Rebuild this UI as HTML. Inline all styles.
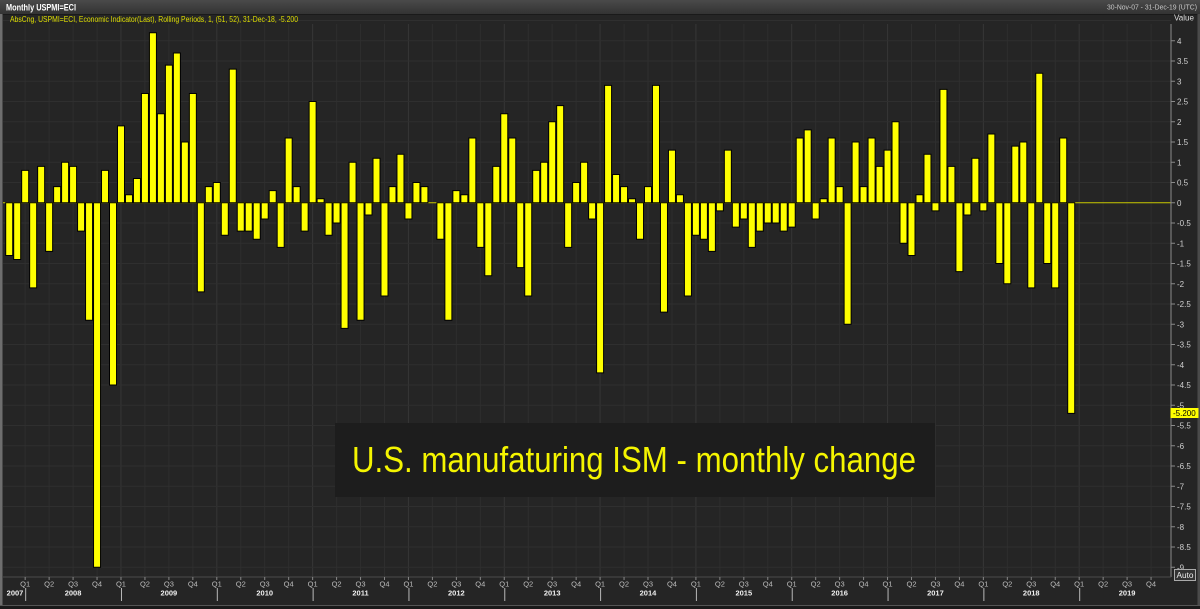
<!DOCTYPE html>
<html>
<head>
<meta charset="utf-8">
<style>
  html,body{margin:0;padding:0;background:#252525;}
  svg{display:block;font-family:"Liberation Sans",Arial,sans-serif;}
  g.b rect{vector-effect:non-scaling-stroke;}
  g.hg line{vector-effect:non-scaling-stroke;}
</style>
</head>
<body>
<svg width="1200" height="609" viewBox="0 0 1200 609" xmlns="http://www.w3.org/2000/svg">
  <!-- background -->
  <rect x="0" y="0" width="1200" height="609" fill="#252525"/>
  <!-- header -->
  <defs>
    <linearGradient id="hdr" x1="0" y1="0" x2="0" y2="1">
      <stop offset="0" stop-color="#4a4a4a"/>
      <stop offset="1" stop-color="#333333"/>
    </linearGradient>
  </defs>
  <rect x="0" y="0" width="1200" height="14" fill="url(#hdr)"/>
  <line x1="0" y1="14.5" x2="1200" y2="14.5" stroke="#1a1a1a" stroke-width="1"/>
  <text x="6" y="10.5" font-size="9" font-weight="bold" fill="#ffffff" textLength="70" lengthAdjust="spacingAndGlyphs">Monthly USPMI=ECI</text>
  <text x="1107" y="9.5" font-size="7.5" fill="#c8c8c8" textLength="90" lengthAdjust="spacingAndGlyphs">30-Nov-07 - 31-Dec-19 (UTC)</text>

  <!-- frame borders -->
  <rect x="0" y="14" width="2.5" height="595" fill="#6e6e6e"/>
  <rect x="1197.5" y="14" width="2.5" height="595" fill="#4a4a4a"/>
  <line x1="0" y1="605.5" x2="1200" y2="605.5" stroke="#555" stroke-width="1"/>
  <rect x="0" y="606" width="1200" height="3" fill="#1a1a1a"/>

  <!-- vertical grid (quarters) -->
  <path d="M25.17 24V577M49.13 24V577M73.08 24V577M97.04 24V577M144.95 24V577M168.9 24V577M192.86 24V577M240.77 24V577M264.72 24V577M288.68 24V577M336.59 24V577M360.54 24V577M384.5 24V577M432.41 24V577M456.36 24V577M480.32 24V577M528.23 24V577M552.18 24V577M576.14 24V577M624.05 24V577M648 24V577M671.96 24V577M719.87 24V577M743.82 24V577M767.78 24V577M815.69 24V577M839.64 24V577M863.6 24V577M911.51 24V577M935.46 24V577M959.42 24V577M1007.33 24V577M1031.28 24V577M1055.24 24V577M1103.15 24V577M1127.1 24V577M1151.06 24V577" stroke="#2e2e2e" stroke-width="1" fill="none"/>
  <path d="M120.99 24V577M216.81 24V577M312.63 24V577M408.45 24V577M504.27 24V577M600.09 24V577M695.91 24V577M791.73 24V577M887.55 24V577M983.37 24V577M1079.19 24V577" stroke="#363636" stroke-width="1" fill="none"/>

  <!-- horizontal grid -->
  <g class="hg" transform="translate(0 202.8) scale(1 -40.5)" stroke="#2f2f2f" stroke-width="1">
    <line x1="3" y1="4.5" x2="1171" y2="4.5"/>
    <line x1="3" y1="4" x2="1171" y2="4"/>
    <line x1="3" y1="3.5" x2="1171" y2="3.5"/>
    <line x1="3" y1="3" x2="1171" y2="3"/>
    <line x1="3" y1="2.5" x2="1171" y2="2.5"/>
    <line x1="3" y1="2" x2="1171" y2="2"/>
    <line x1="3" y1="1.5" x2="1171" y2="1.5"/>
    <line x1="3" y1="1" x2="1171" y2="1"/>
    <line x1="3" y1="0.5" x2="1171" y2="0.5"/>
    <line x1="3" y1="-0.5" x2="1171" y2="-0.5"/>
    <line x1="3" y1="-1" x2="1171" y2="-1"/>
    <line x1="3" y1="-1.5" x2="1171" y2="-1.5"/>
    <line x1="3" y1="-2" x2="1171" y2="-2"/>
    <line x1="3" y1="-2.5" x2="1171" y2="-2.5"/>
    <line x1="3" y1="-3" x2="1171" y2="-3"/>
    <line x1="3" y1="-3.5" x2="1171" y2="-3.5"/>
    <line x1="3" y1="-4" x2="1171" y2="-4"/>
    <line x1="3" y1="-4.5" x2="1171" y2="-4.5"/>
    <line x1="3" y1="-5" x2="1171" y2="-5"/>
    <line x1="3" y1="-5.5" x2="1171" y2="-5.5"/>
    <line x1="3" y1="-6" x2="1171" y2="-6"/>
    <line x1="3" y1="-6.5" x2="1171" y2="-6.5"/>
    <line x1="3" y1="-7" x2="1171" y2="-7"/>
    <line x1="3" y1="-7.5" x2="1171" y2="-7.5"/>
    <line x1="3" y1="-8" x2="1171" y2="-8"/>
    <line x1="3" y1="-8.5" x2="1171" y2="-8.5"/>
    <line x1="3" y1="-9" x2="1171" y2="-9"/>
  </g>

  <!-- annotation box -->
  <rect x="335" y="423" width="600" height="74" fill="#1d1d1d"/>
  <text x="352" y="472" font-size="36" fill="#f5f500" textLength="564" lengthAdjust="spacingAndGlyphs">U.S. manufaturing ISM - monthly change</text>

  <!-- zero line -->
  <line x1="3" y1="202.8" x2="1171" y2="202.8" stroke="#c8c800" stroke-width="1"/>

  <!-- bars -->
  <g class="b" transform="translate(5.7 202.8) scale(7.985 -40.5)" fill="#ffff00" stroke="#000" stroke-width="1">
    <rect x="0" y="-1.3" width=".877" height="1.3"/>
    <rect x="1" y="-1.4" width=".877" height="1.4"/>
    <rect x="2" y="0" width=".877" height="0.8"/>
    <rect x="3" y="-2.1" width=".877" height="2.1"/>
    <rect x="4" y="0" width=".877" height="0.9"/>
    <rect x="5" y="-1.2" width=".877" height="1.2"/>
    <rect x="6" y="0" width=".877" height="0.4"/>
    <rect x="7" y="0" width=".877" height="1.0"/>
    <rect x="8" y="0" width=".877" height="0.9"/>
    <rect x="9" y="-0.7" width=".877" height="0.7"/>
    <rect x="10" y="-2.9" width=".877" height="2.9"/>
    <rect x="11" y="-9.0" width=".877" height="9.0"/>
    <rect x="12" y="0" width=".877" height="0.8"/>
    <rect x="13" y="-4.5" width=".877" height="4.5"/>
    <rect x="14" y="0" width=".877" height="1.9"/>
    <rect x="15" y="0" width=".877" height="0.2"/>
    <rect x="16" y="0" width=".877" height="0.6"/>
    <rect x="17" y="0" width=".877" height="2.7"/>
    <rect x="18" y="0" width=".877" height="4.2"/>
    <rect x="19" y="0" width=".877" height="2.2"/>
    <rect x="20" y="0" width=".877" height="3.4"/>
    <rect x="21" y="0" width=".877" height="3.7"/>
    <rect x="22" y="0" width=".877" height="1.5"/>
    <rect x="23" y="0" width=".877" height="2.7"/>
    <rect x="24" y="-2.2" width=".877" height="2.2"/>
    <rect x="25" y="0" width=".877" height="0.4"/>
    <rect x="26" y="0" width=".877" height="0.5"/>
    <rect x="27" y="-0.8" width=".877" height="0.8"/>
    <rect x="28" y="0" width=".877" height="3.3"/>
    <rect x="29" y="-0.7" width=".877" height="0.7"/>
    <rect x="30" y="-0.7" width=".877" height="0.7"/>
    <rect x="31" y="-0.9" width=".877" height="0.9"/>
    <rect x="32" y="-0.4" width=".877" height="0.4"/>
    <rect x="33" y="0" width=".877" height="0.3"/>
    <rect x="34" y="-1.1" width=".877" height="1.1"/>
    <rect x="35" y="0" width=".877" height="1.6"/>
    <rect x="36" y="0" width=".877" height="0.4"/>
    <rect x="37" y="-0.7" width=".877" height="0.7"/>
    <rect x="38" y="0" width=".877" height="2.5"/>
    <rect x="39" y="0" width=".877" height="0.1"/>
    <rect x="40" y="-0.8" width=".877" height="0.8"/>
    <rect x="41" y="-0.5" width=".877" height="0.5"/>
    <rect x="42" y="-3.1" width=".877" height="3.1"/>
    <rect x="43" y="0" width=".877" height="1.0"/>
    <rect x="44" y="-2.9" width=".877" height="2.9"/>
    <rect x="45" y="-0.3" width=".877" height="0.3"/>
    <rect x="46" y="0" width=".877" height="1.1"/>
    <rect x="47" y="-2.3" width=".877" height="2.3"/>
    <rect x="48" y="0" width=".877" height="0.4"/>
    <rect x="49" y="0" width=".877" height="1.2"/>
    <rect x="50" y="-0.4" width=".877" height="0.4"/>
    <rect x="51" y="0" width=".877" height="0.5"/>
    <rect x="52" y="0" width=".877" height="0.4"/>
    <rect x="54" y="-0.9" width=".877" height="0.9"/>
    <rect x="55" y="-2.9" width=".877" height="2.9"/>
    <rect x="56" y="0" width=".877" height="0.3"/>
    <rect x="57" y="0" width=".877" height="0.2"/>
    <rect x="58" y="0" width=".877" height="1.6"/>
    <rect x="59" y="-1.1" width=".877" height="1.1"/>
    <rect x="60" y="-1.8" width=".877" height="1.8"/>
    <rect x="61" y="0" width=".877" height="0.9"/>
    <rect x="62" y="0" width=".877" height="2.2"/>
    <rect x="63" y="0" width=".877" height="1.6"/>
    <rect x="64" y="-1.6" width=".877" height="1.6"/>
    <rect x="65" y="-2.3" width=".877" height="2.3"/>
    <rect x="66" y="0" width=".877" height="0.8"/>
    <rect x="67" y="0" width=".877" height="1.0"/>
    <rect x="68" y="0" width=".877" height="2.0"/>
    <rect x="69" y="0" width=".877" height="2.4"/>
    <rect x="70" y="-1.1" width=".877" height="1.1"/>
    <rect x="71" y="0" width=".877" height="0.5"/>
    <rect x="72" y="0" width=".877" height="1.0"/>
    <rect x="73" y="-0.4" width=".877" height="0.4"/>
    <rect x="74" y="-4.2" width=".877" height="4.2"/>
    <rect x="75" y="0" width=".877" height="2.9"/>
    <rect x="76" y="0" width=".877" height="0.7"/>
    <rect x="77" y="0" width=".877" height="0.4"/>
    <rect x="78" y="0" width=".877" height="0.1"/>
    <rect x="79" y="-0.9" width=".877" height="0.9"/>
    <rect x="80" y="0" width=".877" height="0.4"/>
    <rect x="81" y="0" width=".877" height="2.9"/>
    <rect x="82" y="-2.7" width=".877" height="2.7"/>
    <rect x="83" y="0" width=".877" height="1.3"/>
    <rect x="84" y="0" width=".877" height="0.2"/>
    <rect x="85" y="-2.3" width=".877" height="2.3"/>
    <rect x="86" y="-0.8" width=".877" height="0.8"/>
    <rect x="87" y="-0.9" width=".877" height="0.9"/>
    <rect x="88" y="-1.2" width=".877" height="1.2"/>
    <rect x="89" y="-0.2" width=".877" height="0.2"/>
    <rect x="90" y="0" width=".877" height="1.3"/>
    <rect x="91" y="-0.6" width=".877" height="0.6"/>
    <rect x="92" y="-0.4" width=".877" height="0.4"/>
    <rect x="93" y="-1.1" width=".877" height="1.1"/>
    <rect x="94" y="-0.7" width=".877" height="0.7"/>
    <rect x="95" y="-0.5" width=".877" height="0.5"/>
    <rect x="96" y="-0.5" width=".877" height="0.5"/>
    <rect x="97" y="-0.7" width=".877" height="0.7"/>
    <rect x="98" y="-0.6" width=".877" height="0.6"/>
    <rect x="99" y="0" width=".877" height="1.6"/>
    <rect x="100" y="0" width=".877" height="1.8"/>
    <rect x="101" y="-0.4" width=".877" height="0.4"/>
    <rect x="102" y="0" width=".877" height="0.1"/>
    <rect x="103" y="0" width=".877" height="1.6"/>
    <rect x="104" y="0" width=".877" height="0.4"/>
    <rect x="105" y="-3.0" width=".877" height="3.0"/>
    <rect x="106" y="0" width=".877" height="1.5"/>
    <rect x="107" y="0" width=".877" height="0.4"/>
    <rect x="108" y="0" width=".877" height="1.6"/>
    <rect x="109" y="0" width=".877" height="0.9"/>
    <rect x="110" y="0" width=".877" height="1.3"/>
    <rect x="111" y="0" width=".877" height="2.0"/>
    <rect x="112" y="-1.0" width=".877" height="1.0"/>
    <rect x="113" y="-1.3" width=".877" height="1.3"/>
    <rect x="114" y="0" width=".877" height="0.2"/>
    <rect x="115" y="0" width=".877" height="1.2"/>
    <rect x="116" y="-0.2" width=".877" height="0.2"/>
    <rect x="117" y="0" width=".877" height="2.8"/>
    <rect x="118" y="0" width=".877" height="0.9"/>
    <rect x="119" y="-1.7" width=".877" height="1.7"/>
    <rect x="120" y="-0.3" width=".877" height="0.3"/>
    <rect x="121" y="0" width=".877" height="1.1"/>
    <rect x="122" y="-0.2" width=".877" height="0.2"/>
    <rect x="123" y="0" width=".877" height="1.7"/>
    <rect x="124" y="-1.5" width=".877" height="1.5"/>
    <rect x="125" y="-2.0" width=".877" height="2.0"/>
    <rect x="126" y="0" width=".877" height="1.4"/>
    <rect x="127" y="0" width=".877" height="1.5"/>
    <rect x="128" y="-2.1" width=".877" height="2.1"/>
    <rect x="129" y="0" width=".877" height="3.2"/>
    <rect x="130" y="-1.5" width=".877" height="1.5"/>
    <rect x="131" y="-2.1" width=".877" height="2.1"/>
    <rect x="132" y="0" width=".877" height="1.6"/>
    <rect x="133" y="-5.2" width=".877" height="5.2"/>
  </g>

  <!-- legend line -->
  <text x="10" y="22" font-size="8" fill="#dede00" textLength="288" lengthAdjust="spacingAndGlyphs">AbsCng, USPMI=ECI, Economic Indicator(Last), Rolling Periods, 1, (51, 52), 31-Dec-18, -5.200</text>
  <text x="1174" y="20.5" font-size="8" fill="#dddddd" textLength="20" lengthAdjust="spacingAndGlyphs">Value</text>

  <!-- right axis -->
  <line x1="1171" y1="24" x2="1171" y2="577" stroke="#8a8a8a" stroke-width="1"/>
  <path d="M1171 40.8H1175M1171 61.05H1175M1171 81.3H1175M1171 101.55H1175M1171 121.8H1175M1171 142.05H1175M1171 162.3H1175M1171 182.55H1175M1171 202.8H1175M1171 223.05H1175M1171 243.3H1175M1171 263.55H1175M1171 283.8H1175M1171 304.05H1175M1171 324.3H1175M1171 344.55H1175M1171 364.8H1175M1171 385.05H1175M1171 405.3H1175M1171 425.55H1175M1171 445.8H1175M1171 466.05H1175M1171 486.3H1175M1171 506.55H1175M1171 526.8H1175M1171 547.05H1175M1171 567.3H1175" stroke="#8a8a8a" stroke-width="1"/>
  <g font-size="8" fill="#cfcfcf">
    <text x="1177" y="43.8">4</text>
    <text x="1177" y="64.05">3.5</text>
    <text x="1177" y="84.3">3</text>
    <text x="1177" y="104.55">2.5</text>
    <text x="1177" y="124.8">2</text>
    <text x="1177" y="145.05">1.5</text>
    <text x="1177" y="165.3">1</text>
    <text x="1177" y="185.55">0.5</text>
    <text x="1177" y="205.8">0</text>
    <text x="1177" y="226.05">-0.5</text>
    <text x="1177" y="246.3">-1</text>
    <text x="1177" y="266.55">-1.5</text>
    <text x="1177" y="286.8">-2</text>
    <text x="1177" y="307.05">-2.5</text>
    <text x="1177" y="327.3">-3</text>
    <text x="1177" y="347.55">-3.5</text>
    <text x="1177" y="367.8">-4</text>
    <text x="1177" y="388.05">-4.5</text>
    <text x="1177" y="408.3">-5</text>
    <text x="1177" y="428.55">-5.5</text>
    <text x="1177" y="448.8">-6</text>
    <text x="1177" y="469.05">-6.5</text>
    <text x="1177" y="489.3">-7</text>
    <text x="1177" y="509.55">-7.5</text>
    <text x="1177" y="529.8">-8</text>
    <text x="1177" y="550.05">-8.5</text>
    <text x="1177" y="570.3">-9</text>
  </g>
  <!-- last value marker -->
  <rect x="1170.5" y="408" width="28" height="10" fill="#ffff00"/>
  <text x="1173" y="416" font-size="8" fill="#000">-5.200</text>

  <!-- Auto box -->
  <rect x="1174.5" y="569.5" width="21" height="11" fill="#333" stroke="#aaaaaa" stroke-width="1"/>
  <text x="1176.5" y="578" font-size="8" fill="#eeeeee" textLength="17" lengthAdjust="spacingAndGlyphs">Auto</text>

  <!-- bottom axis -->
  <line x1="3" y1="577" x2="1171" y2="577" stroke="#4a4a4a" stroke-width="1"/>
  <path d="M25.17 577V580M49.13 577V580M73.08 577V580M97.04 577V580M120.99 577V580M144.95 577V580M168.9 577V580M192.86 577V580M216.81 577V580M240.77 577V580M264.72 577V580M288.68 577V580M312.63 577V580M336.59 577V580M360.54 577V580M384.5 577V580M408.45 577V580M432.41 577V580M456.36 577V580M480.32 577V580M504.27 577V580M528.23 577V580M552.18 577V580M576.14 577V580M600.09 577V580M624.05 577V580M648 577V580M671.96 577V580M695.91 577V580M719.87 577V580M743.82 577V580M767.78 577V580M791.73 577V580M815.69 577V580M839.64 577V580M863.6 577V580M887.55 577V580M911.51 577V580M935.46 577V580M959.42 577V580M983.37 577V580M1007.33 577V580M1031.28 577V580M1055.24 577V580M1079.19 577V580M1103.15 577V580M1127.1 577V580M1151.06 577V580" stroke="#888" stroke-width="1"/>
  <path d="M25.67 588V601M121.49 588V601M217.31 588V601M313.13 588V601M408.95 588V601M504.77 588V601M600.59 588V601M696.41 588V601M792.23 588V601M888.05 588V601M983.87 588V601M1079.69 588V601" stroke="#b8b8b8" stroke-width="1"/>
  <g font-size="7.5" fill="#bdbdbd" text-anchor="middle">
    <text x="25.17" y="586.5">Q1</text><text x="49.13" y="586.5">Q2</text><text x="73.08" y="586.5">Q3</text><text x="97.04" y="586.5">Q4</text>
    <text x="120.99" y="586.5">Q1</text><text x="144.95" y="586.5">Q2</text><text x="168.9" y="586.5">Q3</text><text x="192.86" y="586.5">Q4</text>
    <text x="216.81" y="586.5">Q1</text><text x="240.77" y="586.5">Q2</text><text x="264.72" y="586.5">Q3</text><text x="288.68" y="586.5">Q4</text>
    <text x="312.63" y="586.5">Q1</text><text x="336.59" y="586.5">Q2</text><text x="360.54" y="586.5">Q3</text><text x="384.5" y="586.5">Q4</text>
    <text x="408.45" y="586.5">Q1</text><text x="432.41" y="586.5">Q2</text><text x="456.36" y="586.5">Q3</text><text x="480.32" y="586.5">Q4</text>
    <text x="504.27" y="586.5">Q1</text><text x="528.23" y="586.5">Q2</text><text x="552.18" y="586.5">Q3</text><text x="576.14" y="586.5">Q4</text>
    <text x="600.09" y="586.5">Q1</text><text x="624.05" y="586.5">Q2</text><text x="648" y="586.5">Q3</text><text x="671.96" y="586.5">Q4</text>
    <text x="695.91" y="586.5">Q1</text><text x="719.87" y="586.5">Q2</text><text x="743.82" y="586.5">Q3</text><text x="767.78" y="586.5">Q4</text>
    <text x="791.73" y="586.5">Q1</text><text x="815.69" y="586.5">Q2</text><text x="839.64" y="586.5">Q3</text><text x="863.6" y="586.5">Q4</text>
    <text x="887.55" y="586.5">Q1</text><text x="911.51" y="586.5">Q2</text><text x="935.46" y="586.5">Q3</text><text x="959.42" y="586.5">Q4</text>
    <text x="983.37" y="586.5">Q1</text><text x="1007.33" y="586.5">Q2</text><text x="1031.28" y="586.5">Q3</text><text x="1055.24" y="586.5">Q4</text>
    <text x="1079.19" y="586.5">Q1</text><text x="1103.15" y="586.5">Q2</text><text x="1127.1" y="586.5">Q3</text><text x="1151.06" y="586.5">Q4</text>
  </g>
  <g font-size="7.5" font-weight="bold" fill="#f0f0f0" text-anchor="middle">
    <text x="15" y="595.5">2007</text>
    <text x="73.07" y="595.5">2008</text>
    <text x="168.89" y="595.5">2009</text>
    <text x="264.71" y="595.5">2010</text>
    <text x="360.53" y="595.5">2011</text>
    <text x="456.35" y="595.5">2012</text>
    <text x="552.17" y="595.5">2013</text>
    <text x="647.99" y="595.5">2014</text>
    <text x="743.81" y="595.5">2015</text>
    <text x="839.63" y="595.5">2016</text>
    <text x="935.45" y="595.5">2017</text>
    <text x="1031.27" y="595.5">2018</text>
    <text x="1127.09" y="595.5">2019</text>
  </g>
</svg>
</body>
</html>
